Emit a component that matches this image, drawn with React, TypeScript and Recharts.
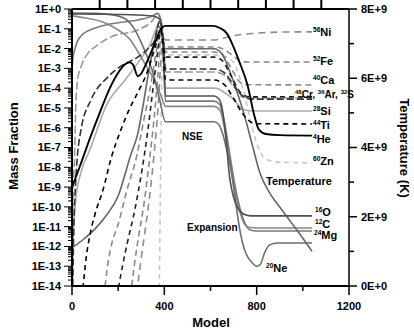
import React from "react";
import { LineChart, Line, XAxis, YAxis, ReferenceLine } from "recharts";

type Pt = [number, number];

// mass fractions vs model number
const he4: Pt[] = [
  [0, 1e-9], [35, 1.2e-8], [78, 3e-7], [121, 6e-6], [164, 1e-4], [200, 6e-4], [230, 1.6e-3],
  [250, 2e-3], [265, 1.5e-3], [285, 4e-4], [300, 5.5e-4], [320, 1.6e-3], [340, 5.5e-3],
  [365, 0.028], [385, 0.1], [405, 0.14], [610, 0.14], [640, 0.11], [670, 0.06], [700, 0.012],
  [726, 0.002], [760, 1.5e-4], [790, 4e-6], [810, 8e-7], [840, 4.8e-7], [900, 4.2e-7], [1040, 4e-7],
];
const o16: Pt[] = [
  [0, 0.56], [100, 0.55], [200, 0.53], [280, 0.5], [330, 0.46], [360, 0.42], [380, 0.3],
  [392, 0.05], [405, 4e-5], [615, 4e-5], [635, 3e-5], [650, 1e-5], [665, 5e-7], [683, 3e-9],
  [700, 3e-10], [720, 8e-11], [750, 4e-11], [780, 3.5e-11], [1040, 3.5e-11],
];
const c12: Pt[] = [
  [0, 0.45], [60, 0.35], [134, 0.22], [180, 0.12], [220, 0.06], [250, 0.03], [281, 8.5e-3],
  [324, 1.2e-3], [367, 1.5e-4], [390, 3e-5], [405, 1.2e-5], [615, 1.2e-5], [640, 8e-6],
  [660, 1e-6], [683, 2e-8], [700, 1.5e-9], [720, 1.2e-10], [745, 1.5e-11], [770, 9e-12],
  [800, 8.5e-12], [1040, 8.5e-12],
];
const ne20: Pt[] = [
  [0, 0.62], [100, 0.6], [170, 0.52], [230, 0.32], [272, 0.09], [300, 0.02], [330, 3e-3],
  [355, 4e-4], [380, 2.5e-5], [405, 2e-6], [615, 2e-6], [635, 1.5e-6], [655, 4e-7], [670, 8e-8],
  [683, 2e-8], [700, 1e-9], [713, 8e-11], [726, 8e-12], [739, 1.5e-12], [755, 4e-13],
  [775, 1.8e-13], [800, 1e-13], [815, 1.2e-13], [835, 5e-13], [856, 1.2e-12], [890, 1.5e-12],
  [1040, 1.5e-12],
];
const mg24: Pt[] = [
  [0, 1e-3], [5, 4e-3], [13, 1e-2], [25, 2.5e-2], [40, 0.045], [70, 0.08], [100, 0.11],
  [150, 0.16], [200, 0.2], [285, 0.28], [340, 0.4], [372, 0.6], [388, 0.2], [398, 1e-3],
  [405, 2.2e-5], [615, 2.2e-5], [640, 1.5e-5], [660, 2e-6], [683, 5e-8], [700, 3e-9],
  [720, 2e-10], [745, 2e-11], [770, 7e-12], [800, 6e-12], [1040, 6e-12],
];
const si28: Pt[] = [
  [0, 3e-15], [4, 1e-12], [10, 3e-11], [17, 3e-10], [40, 6e-9], [78, 8e-8], [151, 1.5e-5],
  [229, 2.5e-4], [294, 2.6e-3], [337, 1.5e-2], [380, 0.2], [392, 0.03], [405, 1e-4],
  [615, 1e-4], [640, 8.5e-5], [670, 5e-5], [696, 3e-5], [720, 1.4e-5], [739, 8.5e-6],
  [770, 7.2e-6], [800, 7e-6], [1040, 7e-6],
];
const s32: Pt[] = [
  [2, 1e-15], [8, 1e-11], [17, 3e-9], [39, 8e-7], [82, 2.5e-5], [156, 3.7e-4], [220, 1.5e-3],
  [285, 3.7e-3], [330, 0.01], [359, 0.027], [380, 0.25], [393, 0.05], [405, 9.3e-4],
  [615, 9.3e-4], [660, 6e-4], [700, 1.5e-4], [740, 4e-5], [780, 2.8e-5], [1040, 2.8e-5],
];
const ar36: Pt[] = [
  [0, 5e-12], [6, 1e-9], [12, 1e-7], [17, 2e-5], [25, 3e-4], [39, 1.2e-3], [70, 6e-3],
  [99, 0.012], [169, 0.039], [285, 0.087], [340, 0.2], [372, 0.5], [388, 0.15], [398, 0.01],
  [405, 6.6e-4], [615, 6.6e-4], [660, 4.5e-4], [700, 1.2e-4], [740, 3.5e-5], [780, 3.2e-5],
  [1040, 3.2e-5],
];
const ca40: Pt[] = [
  [130, 1e-15], [143, 1e-14], [156, 1.5e-13], [173, 1.5e-12], [199, 1.2e-11], [238, 7e-10],
  [281, 4e-8], [307, 1.4e-6], [337, 8e-5], [363, 5e-3], [380, 0.08], [392, 0.03],
  [405, 6.7e-3], [615, 6.7e-3], [650, 5e-3], [690, 1e-3], [720, 2.5e-4], [750, 1.5e-4],
  [1040, 1.45e-4],
];
const ti44: Pt[] = [
  [35, 1e-15], [48, 1e-14], [61, 2.5e-13], [78, 4e-12], [99, 4e-11], [134, 7e-10], [173, 4e-8],
  [208, 6e-7], [251, 1e-5], [285, 6e-5], [329, 8e-4], [363, 0.015], [385, 0.08], [395, 0.01],
  [405, 2.6e-4], [615, 2.6e-4], [660, 1.5e-4], [700, 3e-5], [740, 5e-6], [780, 1.8e-6],
  [800, 1.6e-6], [1040, 1.55e-6],
];
const cr48: Pt[] = [
  [190, 1e-15], [203, 1e-14], [220, 1.2e-13], [242, 2e-12], [272, 7e-11], [303, 7e-9],
  [329, 8e-7], [350, 8e-5], [372, 8e-3], [385, 0.08], [395, 0.02], [405, 3.7e-3],
  [615, 3.7e-3], [650, 2.5e-3], [690, 4e-4], [730, 6e-5], [770, 3.6e-5], [1040, 3.6e-5],
];
const fe52: Pt[] = [
  [250, 1e-15], [259, 1e-14], [272, 1.7e-13], [290, 4e-12], [311, 1.2e-10], [333, 1.3e-8],
  [355, 2.5e-6], [372, 4.5e-4], [385, 0.03], [395, 0.02], [405, 0.012], [615, 0.012],
  [650, 0.01], [690, 5e-3], [726, 2.5e-3], [760, 2.1e-3], [1040, 2.1e-3],
];
const ni56: Pt[] = [
  [278, 1e-15], [285, 1e-14], [298, 1.7e-13], [316, 5.5e-12], [337, 4e-10], [355, 4e-8],
  [372, 8e-6], [385, 2.6e-3], [393, 0.05], [405, 0.027], [615, 0.027], [640, 0.03],
  [700, 0.045], [800, 0.06], [900, 0.068], [1040, 0.07],
];
const zn60: Pt[] = [
  [375, 1e-15], [378, 1e-14], [382, 1e-10], [386, 1e-6], [390, 1e-3], [395, 0.012],
  [405, 4.8e-3], [615, 4.8e-3], [660, 4e-3], [700, 2e-3], [740, 1e-4], [783, 8e-7],
  [815, 6e-8], [843, 2.5e-8], [900, 1.8e-8], [1040, 1.7e-8],
];
// temperature (K), right axis
const tempK: Pt[] = [
  [0, 1.1e9], [50, 1.35e9], [100, 1.65e9], [150, 2.05e9], [200, 2.6e9], [255, 3.8e9],
  [285, 4.4e9], [305, 5.1e9], [330, 6.1e9], [355, 7.0e9], [375, 7.5e9], [390, 7.3e9],
  [405, 6.85e9], [615, 6.85e9], [650, 6.7e9], [683, 6.2e9], [715, 5.6e9], [748, 4.9e9],
  [780, 4.1e9], [815, 3.25e9], [856, 2.69e9], [900, 2.28e9], [950, 1.83e9], [1000, 1.38e9],
  [1040, 1.0e9],
];

const decades = [-14, -13, -12, -11, -10, -9, -8, -7, -6, -5, -4, -3, -2, -1, 0];
const massTicks = decades.flatMap((d) =>
  d === 0 ? [1] : [1, 2, 3, 4, 5, 6, 7, 8, 9].map((k) => k * Math.pow(10, d))
);
const modelTicks = [0, 200, 400, 600, 800, 1000, 1200];
const topTicks = [120, 240, 360, 480, 600, 720, 840, 960, 1080];
const tempTicks = [0, 1e9, 2e9, 3e9, 4e9, 5e9, 6e9, 7e9, 8e9];

const series = [
  { key: "zn60", data: zn60, color: "#c8c8c8", dash: "5 4", axis: "m" },
  { key: "si28", data: si28, color: "#ababab", dash: undefined, axis: "m" },
  { key: "ar36", data: ar36, color: "#999", dash: "8 3", axis: "m" },
  { key: "ca40", data: ca40, color: "#8a8a8a", dash: "6 4", axis: "m" },
  { key: "fe52", data: fe52, color: "#888", dash: "6 4", axis: "m" },
  { key: "ni56", data: ni56, color: "#8c8c8c", dash: "7 5", axis: "m" },
  { key: "c12", data: c12, color: "#888", dash: undefined, axis: "m" },
  { key: "mg24", data: mg24, color: "#7a7a7a", dash: undefined, axis: "m" },
  { key: "ne20", data: ne20, color: "#6e6e6e", dash: undefined, axis: "m" },
  { key: "temp", data: tempK, color: "#666", dash: undefined, axis: "T" },
  { key: "o16", data: o16, color: "#505050", dash: undefined, axis: "m" },
  { key: "s32", data: s32, color: "#333", dash: "7 3", axis: "m" },
  { key: "cr48", data: cr48, color: "#222", dash: "5 4", axis: "m" },
  { key: "ti44", data: ti44, color: "#000", dash: "5 4", axis: "m" },
  { key: "he4", data: he4, color: "#000", dash: undefined, axis: "m" },
];

const FONT = "'Liberation Sans', Arial, Helvetica, sans-serif";

// plot frame used by the chart below (margin top 9, y-axis widths 72 / 65)
const PLOT_LEFT = 72;
const PLOT_RIGHT = 414 - 65;
const PLOT_TOP = 9;
const modelToX = (v: number) => PLOT_LEFT + (v / 1200) * (PLOT_RIGHT - PLOT_LEFT);

// eslint-disable-next-line @typescript-eslint/no-explicit-any
function MassTick({ x, y, payload }: any) {
  const lg = Math.log10(payload.value);
  const e = Math.round(lg);
  const major = Math.abs(lg - e) < 1e-6;
  return (
    <g>
      <line x1={x - (major ? 8 : 4)} x2={x} y1={y} y2={y} stroke="#000" strokeWidth={1} />
      {major && (
        <text x={x - 11} y={y} dy="0.36em" textAnchor="end" fontSize={11} fontWeight="bold" fontFamily={FONT} fill="#000">
          {e === 0 ? "1E+0" : `1E${e}`}
        </text>
      )}
    </g>
  );
}

// eslint-disable-next-line @typescript-eslint/no-explicit-any
function ModelTick({ x, y, payload }: any) {
  const major = payload.value % 400 === 0;
  return (
    <g>
      <line x1={x} x2={x} y1={y} y2={y + (major ? 9 : 5)} stroke="#000" strokeWidth={1.5} />
      {major && (
        <text x={x} y={y + 24} textAnchor="middle" fontSize={11} fontWeight="bold" fontFamily={FONT} fill="#000">
          {payload.value}
        </text>
      )}
    </g>
  );
}

// eslint-disable-next-line @typescript-eslint/no-explicit-any
function TempTick({ x, y, payload }: any) {
  const v = payload.value / 1e9;
  const major = v % 2 === 0;
  return (
    <g>
      <line x1={x} x2={x + (major ? 8 : 5)} y1={y} y2={y} stroke="#000" strokeWidth={1.5} />
      {major && (
        <text x={x + 12} y={y} dy="0.36em" textAnchor="start" fontSize={11} fontWeight="bold" fontFamily={FONT} fill="#000">
          {v === 0 ? "0E+0" : `${v}E+9`}
        </text>
      )}
    </g>
  );
}

function Iso({ x, y, a, el, size = 11 }: { x: number; y: number; a: string; el: string; size?: number }) {
  return (
    <text x={x} y={y} fontFamily={FONT} fontWeight="bold" fill="#000">
      <tspan fontSize={size * 0.6} dy={-size * 0.38}>{a}</tspan>
      <tspan fontSize={size} dy={size * 0.38}>{el}</tspan>
    </text>
  );
}

export default function App() {
  return (
    <div style={{ position: "absolute", left: 0, top: 0, width: 414, height: 329, background: "#fff" }}>
      <LineChart width={414} height={329} margin={{ top: PLOT_TOP, right: 0, bottom: 0, left: 0 }}>
        <XAxis
          xAxisId="b"
          dataKey="x"
          type="number"
          domain={[0, 1200]}
          allowDataOverflow
          ticks={modelTicks}
          interval={0}
          height={43}
          tickSize={0}
          tickMargin={0}
          tickLine={false}
          tick={<ModelTick />}
          axisLine={{ stroke: "#000", strokeWidth: 2 }}
        />
        <YAxis
          yAxisId="m"
          scale="log"
          type="number"
          domain={[1e-14, 1]}
          allowDataOverflow
          ticks={massTicks}
          interval={0}
          width={72}
          tickSize={0}
          tickMargin={0}
          tickLine={false}
          tick={<MassTick />}
          axisLine={{ stroke: "#000", strokeWidth: 2 }}
        />
        <YAxis
          yAxisId="T"
          orientation="right"
          type="number"
          domain={[0, 8e9]}
          allowDataOverflow
          ticks={tempTicks}
          interval={0}
          width={65}
          tickSize={0}
          tickMargin={0}
          tickLine={false}
          tick={<TempTick />}
          axisLine={{ stroke: "#000", strokeWidth: 1.5 }}
        />
        <ReferenceLine xAxisId="b" yAxisId="m" y={1} stroke="#000" strokeWidth={2} ifOverflow="visible" />
        {series.map((s) => (
          <Line
            key={s.key}
            xAxisId="b"
            yAxisId={s.axis}
            data={s.data.map(([x, y]) => ({ x, y }))}
            dataKey="y"
            type="monotone"
            stroke={s.color}
            strokeWidth={s.key === "he4" ? 1.9 : 1.6}
            strokeDasharray={s.dash}
            dot={false}
            activeDot={false}
            isAnimationActive={false}
          />
        ))}
      </LineChart>
      <svg width={414} height={329} style={{ position: "absolute", left: 0, top: 0, pointerEvents: "none" }}>
        {/* outward ticks of the top frame edge */}
        {topTicks.map((t) => (
          <rect key={t} x={modelToX(t) - 1} y={0} width={2} height={PLOT_TOP} fill="#000" />
        ))}
        <Iso x={313} y={36} a="56" el="Ni" />
        <Iso x={313} y={65} a="52" el="Fe" />
        <Iso x={313} y={84} a="40" el="Ca" />
        <text x={295} y={98} fontFamily={FONT} fontWeight="bold" fill="#000">
          <tspan fontSize={6} dy={-4}>48</tspan>
          <tspan fontSize={10} dy={4}>Cr, </tspan>
          <tspan fontSize={6} dy={-4}>36</tspan>
          <tspan fontSize={10} dy={4}>Ar, </tspan>
          <tspan fontSize={6} dy={-4}>32</tspan>
          <tspan fontSize={10} dy={4}>S</tspan>
        </text>
        <Iso x={313} y={115} a="28" el="Si" />
        <Iso x={313} y={129} a="44" el="Ti" />
        <Iso x={313} y={143} a="4" el="He" />
        <Iso x={313} y={165} a="60" el="Zn" />
        <text x={266} y={185} fontSize={11} fontWeight="bold" fontFamily={FONT}>Temperature</text>
        <Iso x={315} y={216} a="16" el="O" />
        <Iso x={315} y={228} a="12" el="C" />
        <Iso x={314} y={239} a="24" el="Mg" />
        <Iso x={266} y={272} a="20" el="Ne" />
        <text x={182} y={140} fontSize={10} fontWeight="bold" fontFamily={FONT}>NSE</text>
        <text x={187} y={231} fontSize={10} fontWeight="bold" fontFamily={FONT}>Expansion</text>
        <text x={211} y={327} textAnchor="middle" fontSize={13} fontWeight="bold" fontFamily={FONT}>Model</text>
        <text transform="translate(18,146) rotate(-90)" textAnchor="middle" fontSize={13} fontWeight="bold" fontFamily={FONT}>Mass Fraction</text>
        <text transform="translate(400,148) rotate(90)" textAnchor="middle" fontSize={13} fontWeight="bold" fontFamily={FONT}>Temperature (K)</text>
      </svg>
    </div>
  );
}
